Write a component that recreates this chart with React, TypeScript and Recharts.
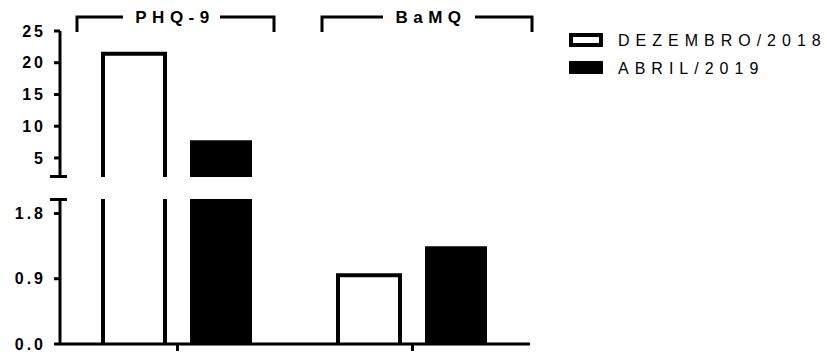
import { BarChart, Bar, XAxis, YAxis } from "recharts"

const categories = ["PHQ-9", "BaMQ"]
const dezembro2018 = [21.4, 0.95]
const abril2019 = [7.8, 1.35]
const seriesNames = ["DEZEMBRO/2018", "ABRIL/2019"]
const topTicks = [5, 10, 15, 20, 25]
const bottomTicks = [0, 0.9, 1.8]
const breakAt = 2
const topMax = 25

const font = "'Liberation Sans', Arial, Helvetica, sans-serif"

const topData = categories.map((name, i) => ({
  name,
  dez: dezembro2018[i] > breakAt ? dezembro2018[i] : null,
  abr: abril2019[i] > breakAt ? abril2019[i] : null,
}))

const bottomData = categories.map((name, i) => ({
  name,
  dez: dezembro2018[i],
  abr: abril2019[i],
}))

const OpenBar = (props: any) => {
  const { x, y, width, height } = props
  if (!height || height <= 0) return null
  return (
    <g>
      <rect x={x} y={y} width={width} height={height} fill="#fff" />
      <path
        d={`M${x},${y + height} L${x},${y} L${x + width},${y} L${x + width},${y + height}`}
        fill="none"
        stroke="#000"
        strokeWidth={4}
      />
    </g>
  )
}

const tickStyle = { fill: "#000", fontSize: 16, fontWeight: 700, fontFamily: font, letterSpacing: 3 }
const axisLine = { stroke: "#000", strokeWidth: 3 }

export default function App() {
  return (
    <div style={{ position: "relative", width: 827, height: 352, background: "#fff", fontFamily: font, overflow: "hidden" }}>
      <style>{`body{margin:0}`}</style>
      <div style={{ position: "absolute", left: 0, top: 0 }}>
        <BarChart
          width={827}
          height={182}
          data={topData}
          margin={{ top: 31, right: 297, bottom: 5, left: 0 }}
          barSize={62}
          barGap={25}
        >
          <XAxis dataKey="name" hide />
          <YAxis
            domain={[breakAt, topMax]}
            ticks={topTicks}
            interval={0}
            allowDataOverflow
            width={60}
            axisLine={axisLine}
            tickLine={axisLine}
            tickSize={6}
            tickMargin={8}
            tick={tickStyle}
          />
          <Bar dataKey="dez" shape={<OpenBar />} isAnimationActive={false} />
          <Bar dataKey="abr" fill="#000" isAnimationActive={false} />
        </BarChart>
      </div>
      <div style={{ position: "absolute", left: 0, top: 190 }}>
        <BarChart
          width={827}
          height={170}
          data={bottomData}
          margin={{ top: 9, right: 297, bottom: 8, left: 0 }}
          barSize={62}
          barGap={25}
        >
          <XAxis
            dataKey="name"
            height={8}
            axisLine={axisLine}
            tickLine={axisLine}
            tickSize={7}
            tickFormatter={() => ""}
          />
          <YAxis
            domain={[0, breakAt]}
            ticks={bottomTicks}
            interval={0}
            allowDataOverflow
            width={60}
            axisLine={axisLine}
            tickLine={axisLine}
            tickSize={6}
            tickMargin={8}
            tick={tickStyle}
            tickFormatter={(v: number) => v.toFixed(1)}
          />
          <Bar dataKey="dez" shape={<OpenBar />} isAnimationActive={false} />
          <Bar dataKey="abr" fill="#000" isAnimationActive={false} />
        </BarChart>
      </div>
      <svg
        width={827}
        height={352}
        fontFamily={font}
        style={{ position: "absolute", left: 0, top: 0, pointerEvents: "none" }}
      >
        {/* axis break marks */}
        <line x1={50} x2={67} y1={176.5} y2={176.5} stroke="#000" strokeWidth={3} />
        <line x1={50} x2={67} y1={199.5} y2={199.5} stroke="#000" strokeWidth={3} />
        {/* group brackets */}
        <path d="M77,32 L77,17 L123,17 M220,17 L274,17 L274,32" fill="none" stroke="#000" strokeWidth={3} />
        <text x={175} y={23} textAnchor="middle" fontSize={17} fontWeight={700} letterSpacing={5.5} fill="#000">
          {categories[0]}
        </text>
        <path d="M322,32 L322,17 L383,17 M475,17 L532,17 L532,32" fill="none" stroke="#000" strokeWidth={3} />
        <text x={431} y={23} textAnchor="middle" fontSize={17} fontWeight={700} letterSpacing={5.5} fill="#000">
          {categories[1]}
        </text>
        {/* legend */}
        <rect x={571} y={35} width={30} height={10} fill="#fff" stroke="#000" strokeWidth={4} />
        <text x={618} y={46} fontSize={16} letterSpacing={6} fill="#000">{seriesNames[0]}</text>
        <rect x={569} y={61} width={34} height={13} fill="#000" />
        <text x={618} y={74} fontSize={16} letterSpacing={6} fill="#000">{seriesNames[1]}</text>
      </svg>
    </div>
  )
}
